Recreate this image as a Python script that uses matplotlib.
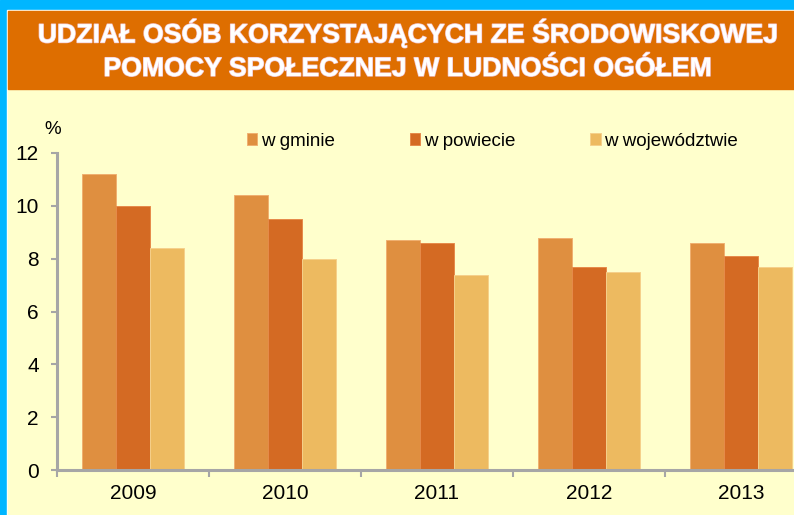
import numpy as np
from matplotlib import pyplot as plt
from matplotlib import patheffects
from matplotlib.patches import Rectangle

years = ['2009', '2010', '2011', '2012', '2013']
w_gminie = [11.2, 10.4, 8.7, 8.8, 8.6]
w_powiecie = [10.0, 9.5, 8.6, 7.7, 8.1]
w_wojewodztwie = [8.4, 8.0, 7.4, 7.5, 7.7]
series_names = ['w gminie', 'w powiecie', 'w województwie']
title_lines = ['UDZIAŁ OSÓB KORZYSTAJĄCYCH ZE ŚRODOWISKOWEJ',
               'POMOCY SPOŁECZNEJ W LUDNOŚCI OGÓŁEM']

colors = ['#DF8F40', '#D46A23', '#EDBA60']
edges = ['#F0B070', '#E68A4A', '#F6D08A']
cream = '#FFFFCC'

plt.rcParams['font.family'] = ['Liberation Sans', 'DejaVu Sans']

W, H = 794, 515
fig = plt.figure(figsize=(W / 100, H / 100), dpi=100, facecolor=cream)

# frame: cyan border, white line, orange title band (behind the axes)
frame = [((0, 0), 1, 1, '#00B6FF'),
         ((7 / W, 0), 1, 1 - 9.5 / H, 'white'),
         ((8 / W, 0), 1, 1 - 11 / H, cream),
         ((8 / W, 1 - 89 / H), 1, 78 / H, '#DE6E00')]
for xy, fw, fh, c in frame:
    fig.patches.append(Rectangle(xy, fw, fh, transform=fig.transFigure,
                                 color=c, zorder=-10))

stroke = [patheffects.withStroke(linewidth=1.0, foreground='#F2C4CC')]
fig.text(407 / W, 1 - 33 / H, title_lines[0], ha='center', va='center', color='white',
         fontsize=19.2, fontweight='bold', path_effects=stroke)
fig.text(407 / W, 1 - 69 / H, title_lines[1], ha='center', va='center', color='white',
         fontsize=19.2, fontweight='bold', path_effects=stroke)

ax = fig.add_axes([57 / W, 45 / H, 760 / W, 317 / H])
ax.set_facecolor(cream)

x = np.arange(len(years))
bw = 0.222
for k, vals in enumerate([w_gminie, w_powiecie, w_wojewodztwie]):
    ax.bar(x + (k - 1) * bw, vals, bw, color=colors[k], edgecolor=edges[k],
           linewidth=0.7, label=series_names[k], zorder=2)

ax.set_xlim(-0.5, len(years) - 0.5)
ax.set_ylim(0, 12)
ax.set_yticks(range(0, 13, 2))
ax.set_xticks(x)
ax.set_xticklabels(years)
ax.set_xticks(np.arange(-0.5, len(years)), minor=True)

for s in ['top', 'right']:
    ax.spines[s].set_visible(False)
for s in ['left', 'bottom']:
    ax.spines[s].set_color('#A6A6A6')
    ax.spines[s].set_linewidth(2.2)

ax.tick_params(axis='y', length=4, width=1.5, color='#A6A6A6', labelsize=15, pad=9)
ax.tick_params(axis='x', which='major', length=0, labelsize=15, pad=10)
ax.tick_params(axis='x', which='minor', length=5, width=1.5, color='#A6A6A6')

fig.text(53 / W, 1 - 130 / H, '%', ha='center', va='center', fontsize=13.5)

ax.legend(loc='center left', bbox_to_anchor=(230 / W, 1 - 141 / H),
          bbox_transform=fig.transFigure, ncol=3, frameon=False, fontsize=13.5,
          handlelength=0.55, handleheight=0.55, handletextpad=0.2,
          columnspacing=4.0)

fig.savefig('out.png', dpi=100, facecolor=fig.get_facecolor())
